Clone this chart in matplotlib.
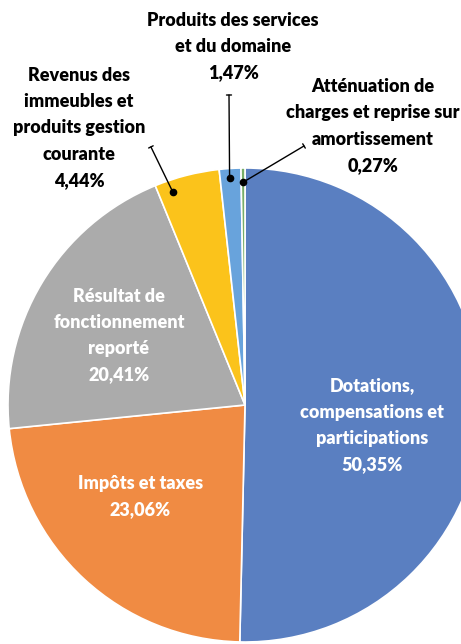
import matplotlib
matplotlib.use("Agg")
import matplotlib.pyplot as plt
import numpy as np

# ---- data ----
categories = [
    "Dotations,\ncompensations et\nparticipations",
    "Impôts et taxes",
    "Résultat de\nfonctionnement\nreporté",
    "Revenus des\nimmeubles et\nproduits gestion\ncourante",
    "Produits des services\net du domaine",
    "Atténuation de\ncharges et reprise sur\namortissement",
]
values = [50.35, 23.06, 20.41, 4.44, 1.47, 0.27]
pct_labels = ["50,35%", "23,06%", "20,41%", "4,44%", "1,47%", "0,27%"]
colors = ["#5A7FC1", "#F08B43", "#ABABAB", "#FBC31B", "#68A3DC", "#78AE68"]

FONT = ["Lato", "Roboto", "DejaVu Sans"]

W, H = 461, 644
CX, CY, R = 245, 405, 237  # pixel layout of the pie

fig = plt.figure(figsize=(W / 100, H / 100), dpi=100)
ax = fig.add_axes([0, 0, 1, 1])

wedges, _ = ax.pie(values, colors=colors, startangle=90, counterclock=False,
                   radius=1, wedgeprops=dict(edgecolor="white", linewidth=1.2))
ax.set_xlim(-CX / R, (W - CX) / R)
ax.set_ylim(-(H - CY) / R, CY / R)
ax.set_aspect("equal", adjustable="box")
ax.axis("off")

fs = 13
ls = 1.66
fw = "heavy"

# inside labels (white)
inside = {0: (0.536, -0.085), 1: (-0.441, -0.385), 2: (-0.532, 0.293)}
for i, (tx, ty) in inside.items():
    ax.text(tx, ty, categories[i] + "\n" + pct_labels[i], ha="center", va="center",
            color="white", fontsize=fs, fontweight=fw, family=FONT,
            linespacing=ls)

# outside labels with leaders
outside = {
    3: dict(text=(-0.70, 1.169), end=(-0.397, 1.089), frac=0.78, r=0.95),
    4: dict(text=(-0.05, 1.513), end=(-0.0675, 1.308), frac=0.55, r=0.96),
    5: dict(text=(0.54, 1.177), end=(0.249, 1.093), frac=0.5, r=0.94),
}
for i, o in outside.items():
    w = wedges[i]
    ang = np.deg2rad(w.theta1 + (w.theta2 - w.theta1) * o["frac"])
    px, py = o["r"] * np.cos(ang), o["r"] * np.sin(ang)
    ax.annotate("", xy=(px, py), xytext=o["end"],
                arrowprops=dict(arrowstyle="|-|,widthA=0.18,widthB=0", lw=1.0,
                                color="black", shrinkA=0, shrinkB=0))
    ax.plot([px], [py], "o", color="black", markersize=4.5)
    ax.text(o["text"][0], o["text"][1], categories[i] + "\n" + pct_labels[i],
            ha="center", va="center", color="black", fontsize=fs,
            fontweight=fw, family=FONT, linespacing=ls)

fig.savefig("out.png", dpi=100)
